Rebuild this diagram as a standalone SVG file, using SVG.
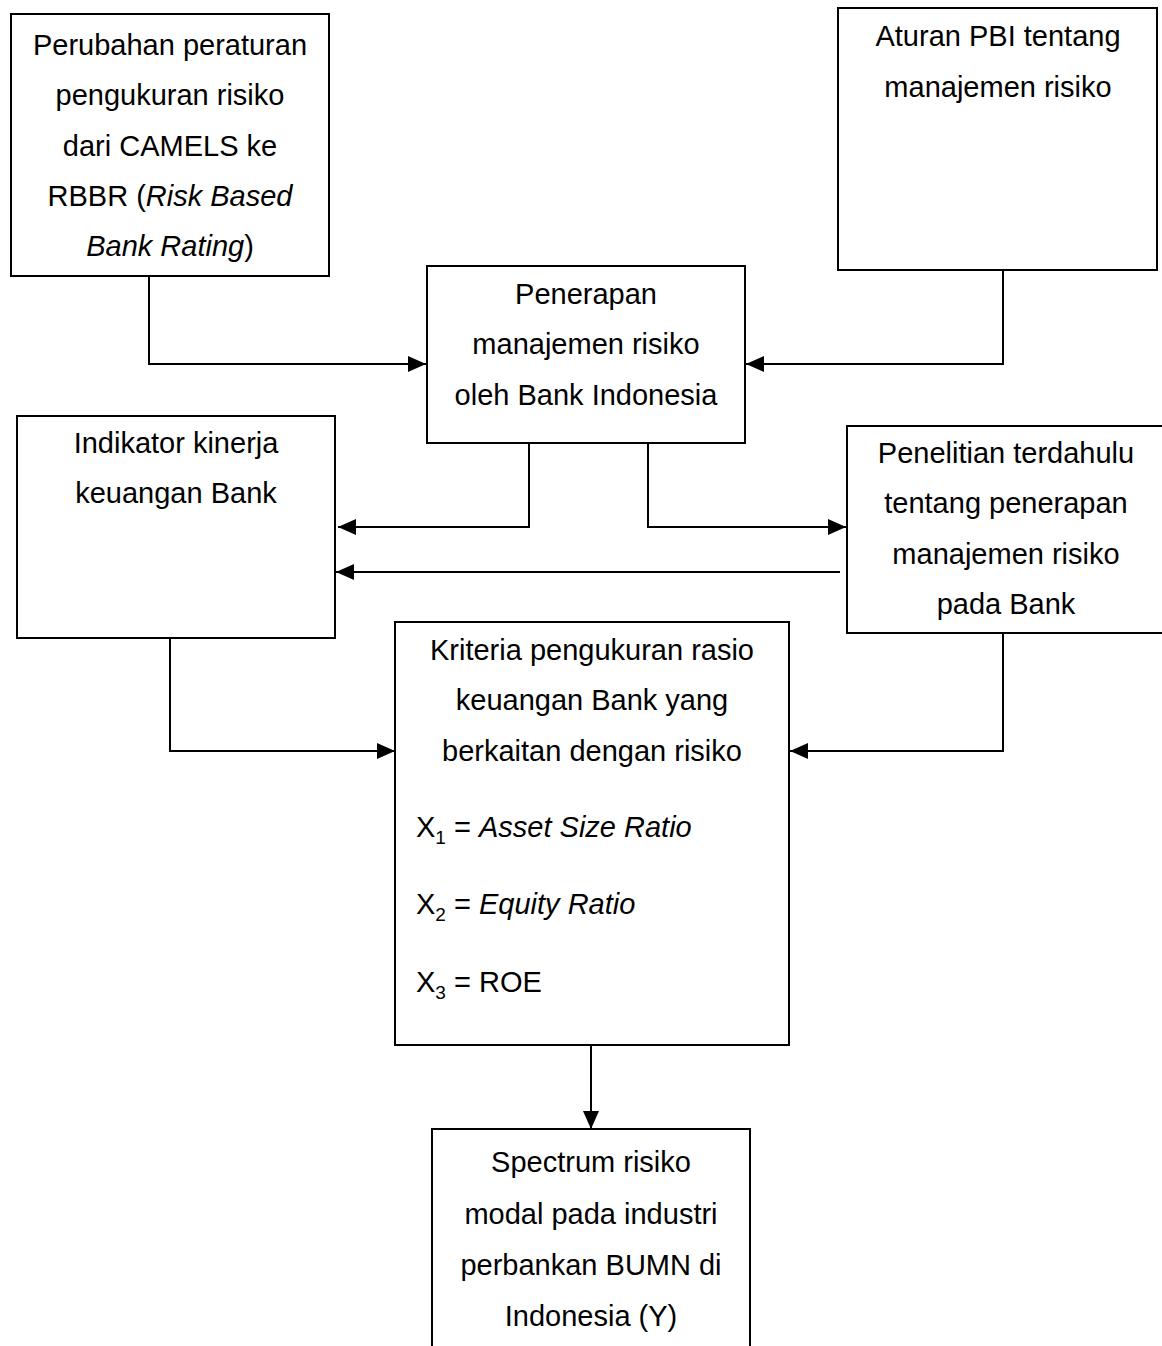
<svg xmlns="http://www.w3.org/2000/svg" width="1162" height="1346" viewBox="0 0 1162 1346">
<style>
.box{fill:#fff;stroke:#000;stroke-width:2}
.t{font-family:"Liberation Sans",Arial,sans-serif;font-size:29px;fill:#000;text-anchor:middle}
.l{font-family:"Liberation Sans",Arial,sans-serif;font-size:29px;fill:#000}
.c{fill:none;stroke:#000;stroke-width:2}
.i{font-style:italic}
.s{font-size:19px}
</style>
<defs>
<marker id="ah" viewBox="0 0 18 16" refX="18" refY="8" markerWidth="18" markerHeight="16" markerUnits="userSpaceOnUse" orient="auto">
<path d="M0,0 L18,8 L0,16 Z" fill="#000"/>
</marker>
</defs>
<rect width="1162" height="1346" fill="#fff"/>
<g id="connectors">
<polyline class="c" points="149,276 149,364 426,364" marker-end="url(#ah)"/>
<polyline class="c" points="1003,270 1003,364 746,364" marker-end="url(#ah)"/>
<polyline class="c" points="529,443 529,527 338,527" marker-end="url(#ah)"/>
<polyline class="c" points="648,443 648,527 846,527" marker-end="url(#ah)"/>
<polyline class="c" points="840,572 336,572" marker-end="url(#ah)"/>
<polyline class="c" points="170,638 170,751 395,751" marker-end="url(#ah)"/>
<polyline class="c" points="1003,633 1003,751 790,751" marker-end="url(#ah)"/>
<polyline class="c" points="591,1045 591,1129" marker-end="url(#ah)"/>
</g>
<g id="node-perubahan">
<rect class="box" x="11" y="14" width="318" height="262"/>
<text class="t" x="170" y="55">Perubahan peraturan</text>
<text class="t" x="170" y="105">pengukuran risiko</text>
<text class="t" x="170" y="156">dari CAMELS ke</text>
<text class="t" x="170" y="206">RBBR (<tspan class="i">Risk Based</tspan></text>
<text class="t" x="170" y="256"><tspan class="i">Bank Rating</tspan>)</text>
</g>
<g id="node-aturan">
<rect class="box" x="838" y="8" width="319" height="262"/>
<text class="t" x="998" y="46">Aturan PBI tentang</text>
<text class="t" x="998" y="97">manajemen risiko</text>
</g>
<g id="node-penerapan">
<rect class="box" x="427" y="266" width="318" height="177"/>
<text class="t" x="586" y="304">Penerapan</text>
<text class="t" x="586" y="354">manajemen risiko</text>
<text class="t" x="586" y="405">oleh Bank Indonesia</text>
</g>
<g id="node-indikator">
<rect class="box" x="17" y="416" width="318" height="222"/>
<text class="t" x="176" y="453">Indikator kinerja</text>
<text class="t" x="176" y="503">keuangan Bank</text>
</g>
<g id="node-penelitian">
<rect class="box" x="847" y="426" width="320" height="207"/>
<text class="t" x="1006" y="463">Penelitian terdahulu</text>
<text class="t" x="1006" y="513">tentang penerapan</text>
<text class="t" x="1006" y="564">manajemen risiko</text>
<text class="t" x="1006" y="614">pada Bank</text>
</g>
<g id="node-kriteria">
<rect class="box" x="395" y="622" width="394" height="423"/>
<text class="t" x="592" y="660">Kriteria pengukuran rasio</text>
<text class="t" x="592" y="710">keuangan Bank yang</text>
<text class="t" x="592" y="761">berkaitan dengan risiko</text>
<text class="l" x="416" y="837">X<tspan class="s" dy="7">1</tspan><tspan dy="-7"> = </tspan><tspan class="i">Asset Size Ratio</tspan></text>
<text class="l" x="416" y="914">X<tspan class="s" dy="7">2</tspan><tspan dy="-7"> = </tspan><tspan class="i">Equity Ratio</tspan></text>
<text class="l" x="416" y="992">X<tspan class="s" dy="7">3</tspan><tspan dy="-7"> = ROE</tspan></text>
</g>
<g id="node-spectrum">
<rect class="box" x="432" y="1129" width="318" height="230"/>
<text class="t" x="591" y="1172">Spectrum risiko</text>
<text class="t" x="591" y="1224">modal pada industri</text>
<text class="t" x="591" y="1275">perbankan BUMN di</text>
<text class="t" x="591" y="1326">Indonesia (Y)</text>
</g>
</svg>
